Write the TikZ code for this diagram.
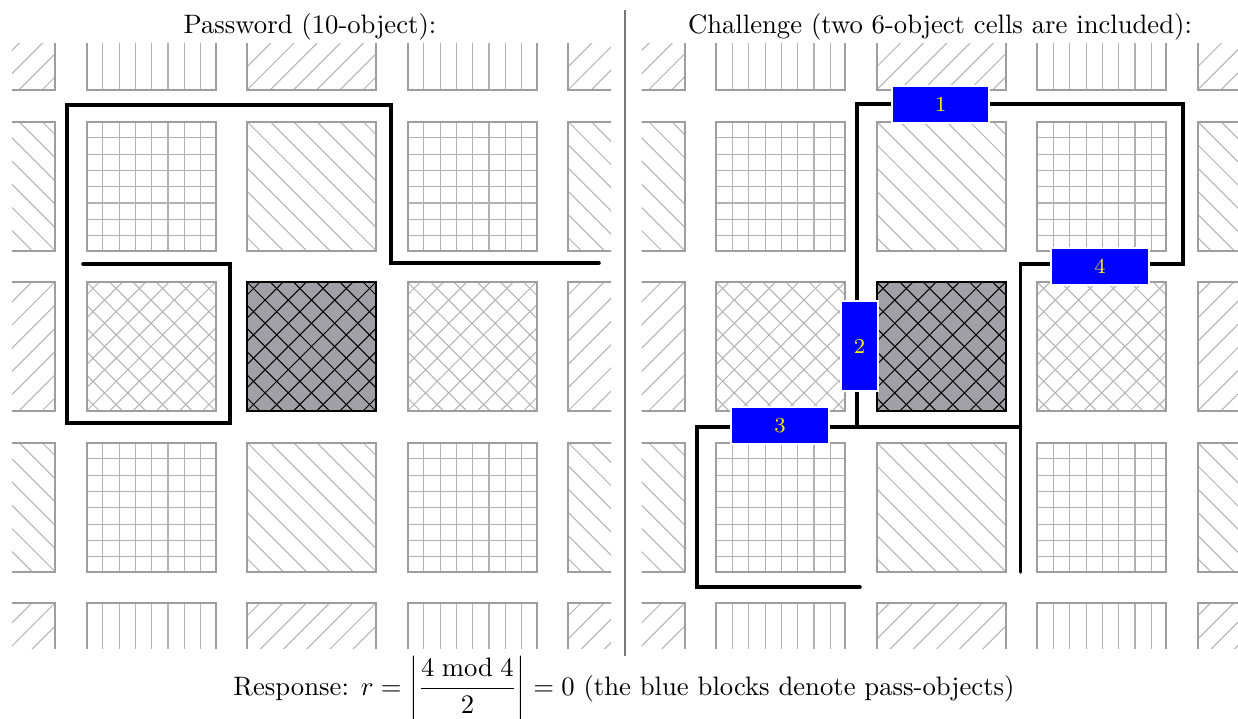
\documentclass[tikz,border=0pt]{standalone}
\definecolor{bordgray}{RGB}{158,158,162}
\definecolor{patgray}{RGB}{178,178,182}
\definecolor{darkfill}{RGB}{160,160,166}
\definecolor{divgray}{RGB}{120,120,120}
\definecolor{blkblue}{RGB}{0,0,255}
\definecolor{numyellow}{RGB}{255,240,0}

\newcommand\cellV[2]{%
  \foreach \kk in {1,...,7}{\draw[pat] ({#1-64.5+16.3*\kk},{#2-64.5}) -- ({#1-64.5+16.3*\kk},{#2+64.5});}
  \draw[bord] ({#1-64.5},{#2-64.5}) rectangle ({#1+64.5},{#2+64.5});}
\newcommand\cellG[2]{%
  \foreach \kk in {1,...,7}{\draw[pat] ({#1-64.5+16.3*\kk},{#2-64.5}) -- ({#1-64.5+16.3*\kk},{#2+64.5});
    \draw[pat] ({#1-64.5},{#2-64.5+16.3*\kk}) -- ({#1+64.5},{#2-64.5+16.3*\kk});}
  \draw[bord] ({#1-64.5},{#2-64.5}) rectangle ({#1+64.5},{#2+64.5});}
\newcommand\cellNE[2]{%
  \begin{scope}
  \clip ({#1-64.5},{#2-64.5}) rectangle ({#1+64.5},{#2+64.5});
  \foreach \kk in {-6,...,6}{\draw[pat] ({#1-70},{#2+70+23.2*\kk}) -- ({#1+70},{#2-70+23.2*\kk});}
  \end{scope}
  \draw[bord] ({#1-64.5},{#2-64.5}) rectangle ({#1+64.5},{#2+64.5});}
\newcommand\cellNW[2]{%
  \begin{scope}
  \clip ({#1-64.5},{#2-64.5}) rectangle ({#1+64.5},{#2+64.5});
  \foreach \kk in {-6,...,6}{\draw[pat] ({#1-70},{#2-70+23.2*\kk}) -- ({#1+70},{#2+70+23.2*\kk});}
  \end{scope}
  \draw[bord] ({#1-64.5},{#2-64.5}) rectangle ({#1+64.5},{#2+64.5});}
\newcommand\cellCH[2]{%
  \begin{scope}
  \clip ({#1-64.5},{#2-64.5}) rectangle ({#1+64.5},{#2+64.5});
  \foreach \kk in {-6,...,6}{\draw[pat] ({#1-70},{#2+70+23.2*\kk}) -- ({#1+70},{#2-70+23.2*\kk});
    \draw[pat] ({#1-70},{#2-70+23.2*\kk}) -- ({#1+70},{#2+70+23.2*\kk});}
  \end{scope}
  \draw[bord] ({#1-64.5},{#2-64.5}) rectangle ({#1+64.5},{#2+64.5});}
\newcommand\cellDK[2]{%
  \fill[darkfill] ({#1-64.5},{#2-64.5}) rectangle ({#1+64.5},{#2+64.5});
  \begin{scope}
  \clip ({#1-64.5},{#2-64.5}) rectangle ({#1+64.5},{#2+64.5});
  \foreach \kk in {-6,...,6}{\draw[dkpat] ({#1-70},{#2+70+23.2*\kk}) -- ({#1+70},{#2-70+23.2*\kk});
    \draw[dkpat] ({#1-70},{#2-70+23.2*\kk}) -- ({#1+70},{#2+70+23.2*\kk});}
  \end{scope}
  \draw[dkbord] ({#1-64.5},{#2-64.5}) rectangle ({#1+64.5},{#2+64.5});}
\newcommand\gridpanel[1]{%
  \begin{scope}
  \clip ({#1-299.5},43) rectangle ({#1+299.5},648);
  \foreach \rowy in {25.5,667.5}{\cellNE{#1-321}{\rowy}\cellV{#1-160.5}{\rowy}\cellNE{#1}{\rowy}\cellV{#1+160.5}{\rowy}\cellNE{#1+321}{\rowy}}
  \foreach \rowy in {186,507}{\cellNW{#1-321}{\rowy}\cellG{#1-160.5}{\rowy}\cellNW{#1}{\rowy}\cellG{#1+160.5}{\rowy}\cellNW{#1+321}{\rowy}}
  \cellNE{#1-321}{346.5}\cellCH{#1-160.5}{346.5}\cellDK{#1}{346.5}\cellCH{#1+160.5}{346.5}\cellNE{#1+321}{346.5}
  \end{scope}}

\begin{document}
\begin{tikzpicture}[x=0.375pt,y=-0.375pt,
  bord/.style={draw=bordgray,line width=0.75pt},
  pat/.style={draw=patgray,line width=0.38pt},
  dkpat/.style={draw=black,line width=0.38pt},
  dkbord/.style={draw=black,line width=0.75pt},
  route/.style={draw=black,line width=1.32pt,line cap=round,line join=miter},
  divider/.style={draw=divgray,line width=0.55pt},
  title/.style={font=\normalsize,inner sep=0pt,anchor=base},
  blk/.style={fill=blkblue,draw=white,line width=0.75pt,inner sep=0pt,
    text=numyellow,font=\footnotesize},
  hblk/.style={blk,minimum width=36.4pt,minimum height=13.9pt},
  vblk/.style={blk,minimum width=13.9pt,minimum height=33.8pt}]
\useasboundingbox (0,0) rectangle (1238,719);

% grids
\gridpanel{311.5}
\gridpanel{941.2}

% divider
\coordinate (dtop) at (625,10);
\coordinate (dbot) at (625,656);
\draw[divider] (dtop) -- (dbot);

% titles
\node[title] (t1) at (310,33.5) {Password (10-object):};
\node[title] (t2) at (940,33.5) {Challenge (two 6-object cells are included):};
\node[title] (resp) at (624,695) {\delimiterfactor=820 \delimitershortfall=10pt Response: $\displaystyle r=\left|\frac{4 \bmod 4}{2}\right|=0$ (the blue blocks denote pass-objects)};

% left route
\coordinate (l0) at (83,264);
\coordinate (l1) at (230,264);
\coordinate (l2) at (230,423);
\coordinate (l3) at (67,423);
\coordinate (l4) at (67,105);
\coordinate (l5) at (391,105);
\coordinate (l6) at (391,263);
\coordinate (l7) at (599,263);
\draw[route] (l0) -- (l1) -- (l2) -- (l3) -- (l4) -- (l5) -- (l6) -- (l7);

% right route
\coordinate (r0) at (860,587);
\coordinate (r1) at (697,587);
\coordinate (r2) at (697,427);
\coordinate (r3) at (1020.5,427);
\coordinate (rj) at (857,427);
\coordinate (r4) at (857,104);
\coordinate (r5) at (1183,104);
\coordinate (r6) at (1183,264);
\coordinate (r7) at (1020.5,264);
\coordinate (r8) at (1020.5,572);
\draw[route] (r0) -- (r1) -- (r2) -- (r3);
\draw[route] (rj) -- (r4) -- (r5) -- (r6) -- (r7) -- (r8);

% pass-object blocks
\node[hblk] (b1) at (940.8,104.5) {1};
\node[vblk] (b2) at (859.5,346.4) {2};
\node[hblk] (b3) at (780,425.7) {3};
\node[hblk] (b4) at (1100,266.5) {4};
\end{tikzpicture}
\end{document}
